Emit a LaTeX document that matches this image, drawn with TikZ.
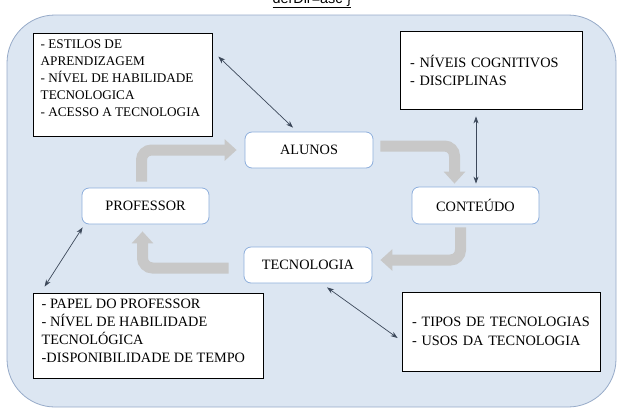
\documentclass[tikz,border=0pt]{standalone}
\usepackage{fontspec}
\setmainfont{Liberation Serif}
\newfontfamily\capfont{Liberation Sans}
\usepackage{tikz}
\usetikzlibrary{calc, arrows.meta}
\usepackage{xcolor}
\definecolor{panelblue}{RGB}{220,230,242}
\definecolor{panelline}{RGB}{150,170,200}
\definecolor{roleline}{RGB}{141,174,220}
\definecolor{linkgray}{RGB}{60,72,90}
\definecolor{flowgray}{RGB}{200,200,200}

\begin{document}
\begin{tikzpicture}[x=1pt, y=-1pt]

        % 1. Fix the page and draw the blue panel
        \useasboundingbox (0,0) rectangle (618,408);
        \node[font=\capfont\fontsize{14.4}{17}\selectfont, anchor=base, inner sep=0pt] (caption) at (312,3) {\underline{derDir=asc \}}};
        \draw[fill=panelblue, draw=panelline, line width=0.8pt, rounded corners=48pt] (7,15) rectangle (616,407);

        % 2. Styles for the four roles, the note boxes and the connectors
        \tikzset{
          role/.style={draw=roleline, fill=white, line width=0.8pt, rounded corners=7pt, minimum width=128pt, minimum height=36pt, font=\fontsize{14.3}{18}\selectfont},
          infobox/.style={draw=black, fill=white, line width=0.8pt, align=left, font=\fontsize{14.3}{18}\selectfont},
          flow/.style={draw=flowgray, line width=11pt, rounded corners=10pt, -{Triangle[length=12pt, width=21pt]}},
          link/.style={draw=linkgray, line width=0.7pt, {Stealth[length=7pt, width=5pt]}-{Stealth[length=7pt, width=5pt]}}
        }

        % 3. The cycle of roles
        \node[role] (alunos) at (309,150) {ALUNOS};
        \node[role, minimum width=127pt] (professor) at (145.5,206) {PROFESSOR};
        \node[role] (tecnologia) at (308,265) {TECNOLOGIA};
        \node[role, minimum width=127pt, minimum height=37pt] (conteudo) at (475.5,205.5) {CONTEÚDO};

        % 4. Note boxes (top aligned ones use a parbox)
        \node[infobox, inner xsep=7.7pt, inner ysep=7pt, font=\fontsize{13.2}{17}\selectfont] (estilos) at (122.5,84.5)
          {\parbox[c][89pt][t]{163.6pt}{- ESTILOS DE\\APRENDIZAGEM\\- NÍVEL DE HABILIDADE\\TECNOLOGICA\\- ACESSO A TECNOLOGIA}};
        \node[infobox, inner xsep=10pt, text width=162pt, minimum height=78pt] (niveis) at (491,70)
          {- NÍVEIS COGNITIVOS\\- DISCIPLINAS};
        \node[infobox, inner xsep=8.7pt, inner ysep=6.5pt] (papel) at (148,335.5)
          {\parbox[c][72pt][t]{212.6pt}{- PAPEL DO PROFESSOR\\- NÍVEL DE HABILIDADE\\TECNOLÓGICA\\-DISPONIBILIDADE DE TEMPO}};
        \node[infobox, inner xsep=10pt, text width=178pt, minimum height=79pt, font=\fontsize{14.3}{19}\selectfont] (tipos) at (501,331.5)
          {- TIPOS DE TECNOLOGIAS\\- USOS DA TECNOLOGIA};

        % 5. Broad grey arrows round the cycle
        \draw[flow] ([xshift=-4pt, yshift=6pt]professor.north) |- ([xshift=-8pt]alunos.west);
        \draw[flow] ([xshift=7pt, yshift=4pt]alunos.east) -| ([xshift=-21pt, yshift=3pt]conteudo.north);
        \draw[flow] ([xshift=-15pt, yshift=-3pt]conteudo.south) |- ([xshift=8pt, yshift=5pt]tecnologia.east);
        \draw[flow] ([xshift=-15pt, yshift=-3pt]tecnologia.west) -| ([xshift=-3pt, yshift=-7pt]professor.south);

        % 6. Thin links between roles and notes
        \draw[link] ([xshift=6pt, yshift=-24pt]estilos.north east) -- ([xshift=-16pt, yshift=4pt]alunos.north);
        \draw[link] ([xshift=-15pt, yshift=-7pt]niveis.south) -- ([xshift=0.5pt, yshift=3pt]conteudo.north);
        \draw[link] ([xshift=1pt, yshift=-3pt]professor.south west) -- ([xshift=12pt, yshift=6pt]papel.north west);
        \draw[link] ([xshift=19pt, yshift=-4pt]tecnologia.south) -- ([xshift=-4pt, yshift=-6.5pt]tipos.west);

\end{tikzpicture}
\end{document}
